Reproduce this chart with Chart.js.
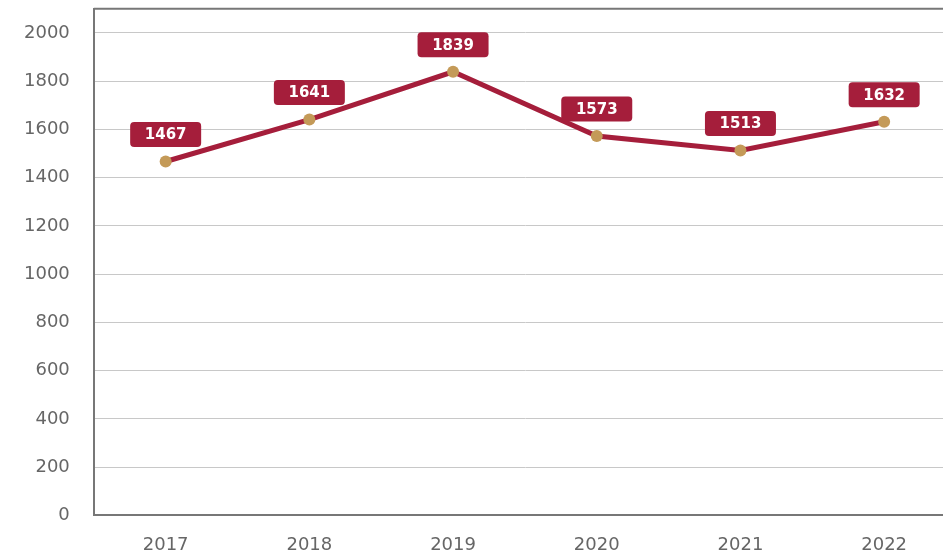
<!DOCTYPE html>
<html>
<head>
<meta charset="utf-8">
<script src="https://cdn.jsdelivr.net/npm/chart.js@4"></script>
<style>
  html, body { margin: 0; padding: 0; background: #fff; overflow: hidden; }
  #wrap { width: 962px; height: 584px; margin-top: -26px; }
</style>
</head>
<body>
<div id="wrap"><canvas id="chart" width="962" height="584"></canvas></div>
<script>
// dane
const years = ["2017", "2018", "2019", "2020", "2021", "2022"];
const values = [1467, 1641, 1839, 1573, 1513, 1632];
const yTicks = [0, 200, 400, 600, 800, 1000, 1200, 1400, 1600, 1800, 2000];

const lineColor = "#a51e3b";
const pointColor = "#c49a58";
const tickFont = { family: "'DejaVu Sans'", size: 18 };

// etykiety z wartosciami (ramki nad punktami)
const valueBoxes = {
    id: "valueBoxes",
    afterDatasetsDraw(chart) {
        const ctx = chart.ctx;
        const meta = chart.getDatasetMeta(0);
        ctx.save();
        ctx.font = "bold 15px 'DejaVu Sans'";
        ctx.textAlign = "center";
        ctx.textBaseline = "middle";
        meta.data.forEach((pt, i) => {
            const w = 71, h = 25;
            const cx = pt.x, cy = pt.y - 27;
            ctx.fillStyle = lineColor;
            ctx.beginPath();
            ctx.roundRect(cx - w / 2, cy - h / 2, w, h, 4);
            ctx.fill();
            ctx.fillStyle = "#fff";
            ctx.fillText(values[i], cx, cy + 1);
        });
        ctx.restore();
    }
};

// gorna krawedz ramki
const topBorder = {
    id: "topBorder",
    beforeDatasetsDraw(chart) {
        const a = chart.chartArea;
        const ctx = chart.ctx;
        ctx.save();
        ctx.strokeStyle = "#777";
        ctx.lineWidth = 2;
        ctx.beginPath();
        ctx.moveTo(a.left, a.top);
        ctx.lineTo(a.right, a.top);
        ctx.stroke();
        ctx.restore();
    }
};

new Chart(document.getElementById("chart"), {
    type: "line",
    data: {
        labels: years,
        datasets: [{
            data: values,
            borderColor: lineColor,
            borderWidth: 5,
            pointBackgroundColor: pointColor,
            pointBorderWidth: 0,
            pointRadius: 6,
            tension: 0
        }]
    },
    options: {
        responsive: false,
        animation: false,
        layout: { padding: { top: 0, left: 0, right: 0, bottom: -17 } },
        plugins: {
            legend: { display: false },
            tooltip: { enabled: false }
        },
        scales: {
            x: {
                offset: true,
                grid: { display: false, drawTicks: false },
                border: { color: "#777", width: 2 },
                ticks: {
                    color: "#666",
                    font: tickFont,
                    padding: 19
                }
            },
            y: {
                min: 0,
                max: 2100,
                afterBuildTicks(axis) {
                    axis.ticks = yTicks.map(v => ({ value: v }));
                },
                grid: { color: "#c8c8c8", lineWidth: 1, drawTicks: false },
                border: { color: "#777", width: 2 },
                ticks: {
                    color: "#666",
                    font: tickFont,
                    padding: 24,
                    callback: (v) => String(v)
                }
            }
        }
    },
    plugins: [topBorder, valueBoxes]
});
</script>
</body>
</html>
